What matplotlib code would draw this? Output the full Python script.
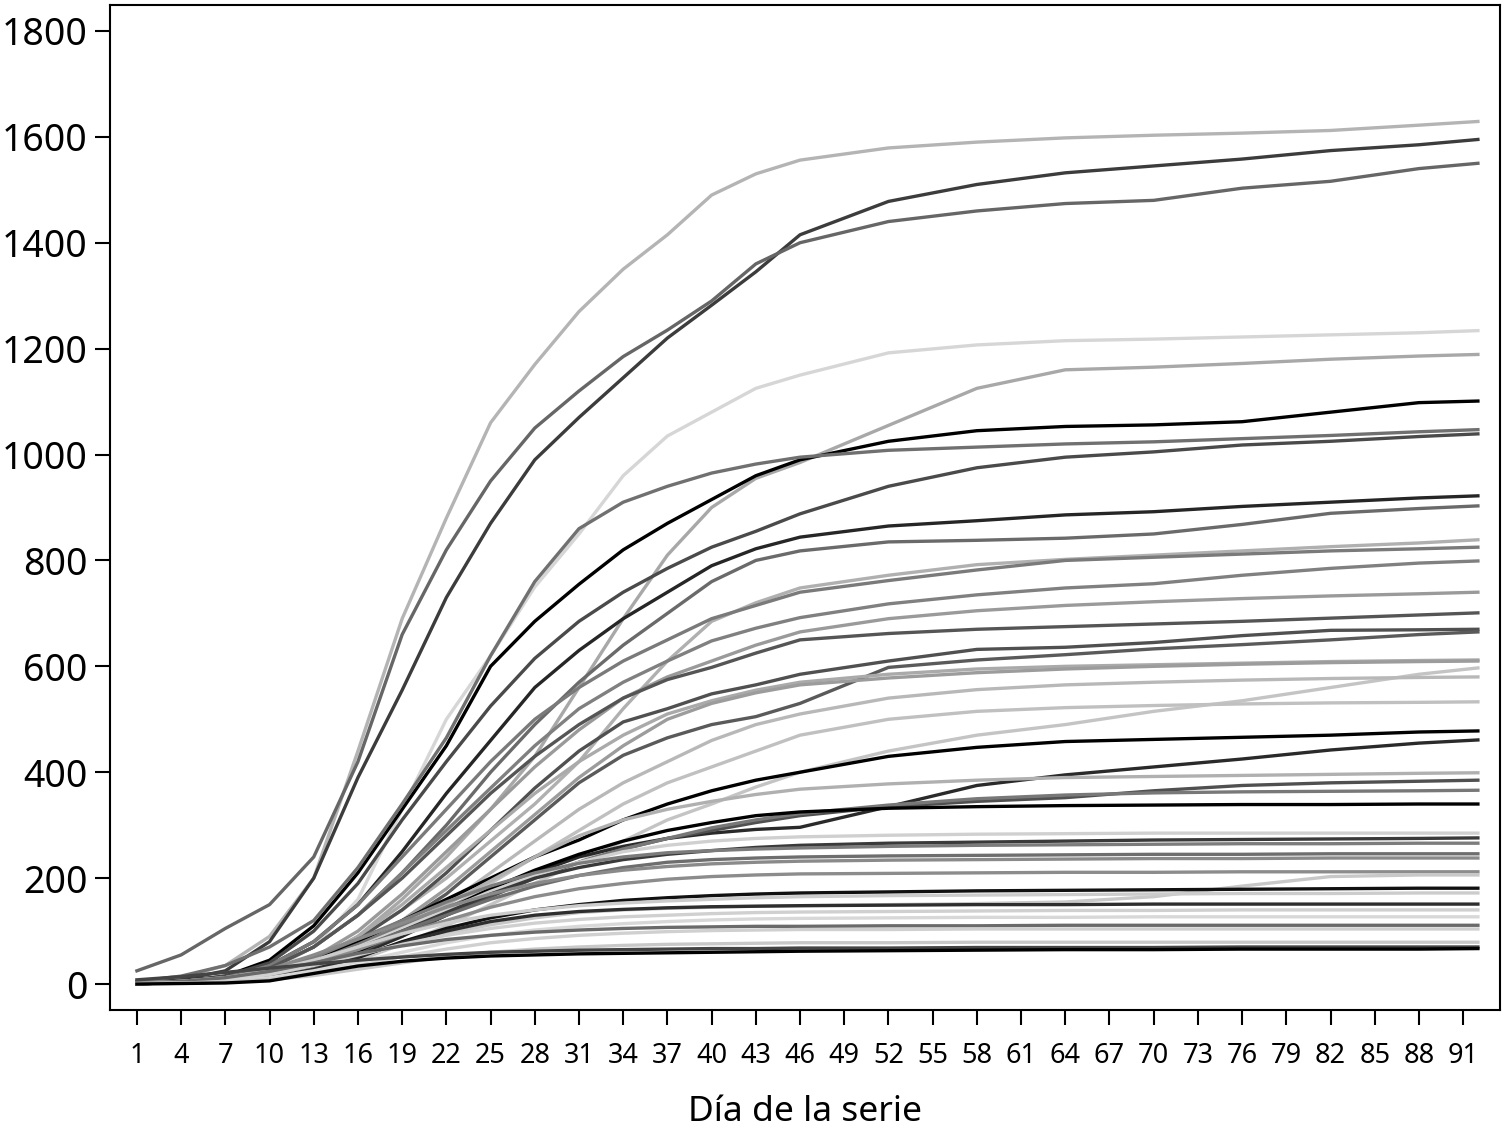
import numpy as np
import matplotlib
matplotlib.use("Agg")
import matplotlib.pyplot as plt

plt.rcParams['font.family'] = ['Noto Sans', 'DejaVu Sans']

days = [1, 4, 7, 10, 13, 16, 19, 22, 25, 28, 31, 34, 37, 40, 43, 46, 52, 58, 64, 70, 76, 82, 88, 92]
xticks = list(range(1, 92, 3))
yticks = [0, 200, 400, 600, 800, 1000, 1200, 1400, 1600, 1800]

# cumulative counts per series (named by final value)
s1629 = [5, 12, 35, 90, 200, 440, 690, 880, 1060, 1170, 1270, 1350, 1415, 1490, 1530, 1556, 1579, 1590, 1598, 1603, 1607, 1612, 1622, 1629]
s1595 = [3, 8, 25, 80, 200, 390, 555, 730, 870, 990, 1070, 1145, 1220, 1282, 1345, 1415, 1478, 1510, 1532, 1545, 1558, 1574, 1585, 1595]
s1550 = [25, 55, 105, 150, 240, 420, 660, 820, 950, 1050, 1120, 1185, 1235, 1290, 1360, 1400, 1440, 1460, 1474, 1480, 1503, 1516, 1540, 1550]
s1234 = [1, 3, 8, 25, 70, 160, 330, 500, 620, 750, 850, 960, 1035, 1080, 1125, 1150, 1192, 1207, 1215, 1218, 1222, 1226, 1230, 1234]
s1189 = [1, 3, 8, 20, 45, 90, 160, 240, 330, 430, 560, 690, 810, 900, 955, 985, 1055, 1125, 1160, 1165, 1172, 1180, 1186, 1189]
s1101 = [2, 5, 15, 45, 110, 210, 330, 450, 600, 685, 755, 820, 870, 915, 960, 990, 1025, 1045, 1053, 1056, 1062, 1080, 1098, 1101]
s1047 = [5, 15, 35, 70, 120, 220, 340, 465, 620, 760, 860, 910, 940, 965, 982, 995, 1008, 1014, 1020, 1024, 1030, 1036, 1043, 1047]
s1039 = [2, 5, 15, 40, 100, 190, 310, 420, 525, 615, 685, 740, 785, 825, 855, 888, 940, 975, 995, 1005, 1018, 1025, 1034, 1039]
s922 = [2, 5, 12, 35, 80, 150, 250, 360, 460, 560, 630, 690, 740, 790, 822, 844, 865, 875, 886, 892, 902, 910, 918, 922]
s903 = [2, 5, 12, 30, 70, 130, 210, 300, 400, 490, 570, 640, 700, 760, 800, 818, 835, 838, 842, 850, 868, 889, 898, 903]
s839 = [1, 3, 8, 20, 45, 85, 140, 200, 270, 340, 420, 520, 610, 685, 720, 748, 772, 792, 802, 810, 818, 826, 833, 839]
s825 = [2, 5, 12, 35, 80, 150, 240, 330, 420, 500, 560, 610, 650, 690, 715, 740, 762, 782, 800, 806, 812, 818, 822, 825]
s799 = [2, 5, 12, 30, 70, 130, 210, 290, 370, 450, 520, 570, 610, 648, 672, 692, 718, 735, 748, 756, 772, 785, 795, 799]
s740 = [1, 3, 8, 20, 50, 100, 170, 250, 330, 410, 480, 540, 580, 610, 640, 665, 690, 705, 715, 722, 728, 733, 737, 740]
s701 = [2, 5, 12, 30, 70, 130, 200, 280, 360, 430, 490, 540, 575, 598, 625, 650, 662, 670, 675, 680, 685, 691, 697, 701]
s670 = [1, 3, 8, 20, 45, 85, 140, 210, 290, 370, 440, 495, 520, 548, 565, 585, 610, 632, 636, 645, 658, 668, 669, 670]
s665 = [1, 2, 6, 15, 35, 70, 115, 170, 240, 310, 380, 432, 465, 490, 505, 530, 598, 612, 622, 633, 641, 650, 660, 665]
s612 = [1, 3, 8, 20, 45, 90, 150, 220, 290, 360, 420, 470, 510, 535, 555, 570, 585, 595, 600, 603, 606, 609, 611, 612]
s610 = [1, 3, 6, 15, 35, 70, 120, 180, 250, 320, 390, 450, 500, 530, 550, 565, 578, 588, 595, 600, 604, 607, 609, 610]
s597 = [1, 2, 4, 10, 22, 45, 75, 110, 150, 190, 230, 270, 310, 340, 372, 400, 440, 470, 490, 515, 535, 560, 585, 597]
s580 = [1, 2, 5, 12, 30, 60, 100, 150, 210, 270, 330, 380, 420, 460, 490, 510, 540, 556, 565, 570, 574, 577, 579, 580]
s533 = [1, 2, 5, 12, 28, 55, 90, 140, 190, 240, 290, 340, 380, 410, 440, 470, 500, 515, 522, 526, 529, 531, 532, 533]
s478 = [1, 3, 8, 20, 45, 80, 120, 160, 200, 240, 272, 310, 340, 365, 385, 400, 430, 447, 458, 462, 466, 470, 476, 478]
s461 = [1, 2, 5, 12, 28, 55, 90, 130, 170, 210, 240, 260, 275, 285, 292, 296, 335, 375, 395, 410, 425, 442, 455, 461]
s399 = [1, 2, 6, 16, 38, 70, 110, 150, 195, 240, 280, 310, 330, 345, 358, 368, 378, 385, 390, 392, 394, 396, 398, 399]
s385 = [1, 2, 5, 14, 32, 60, 95, 130, 165, 200, 230, 255, 275, 290, 305, 318, 335, 345, 352, 365, 375, 380, 383, 385]
s366 = [1, 3, 8, 20, 42, 75, 110, 145, 175, 205, 230, 255, 275, 295, 310, 322, 338, 350, 357, 361, 363, 364, 365, 366]
s340 = [1, 2, 5, 14, 32, 62, 100, 140, 180, 215, 245, 270, 290, 305, 318, 325, 332, 335, 337, 338, 339, 339, 340, 340]
s285 = [1, 3, 8, 18, 40, 70, 105, 140, 175, 205, 230, 250, 262, 270, 275, 278, 281, 283, 284, 285, 285, 285, 285, 285]
s276 = [1, 2, 6, 15, 35, 65, 100, 135, 170, 200, 220, 235, 245, 252, 258, 262, 266, 268, 270, 272, 273, 274, 275, 276]
s266 = [1, 4, 10, 25, 50, 85, 120, 155, 185, 210, 228, 240, 248, 252, 255, 257, 260, 262, 263, 264, 265, 265, 266, 266]
s246 = [1, 2, 6, 16, 38, 68, 100, 130, 160, 185, 205, 220, 230, 235, 238, 240, 242, 243, 244, 245, 245, 246, 246, 246]
s238 = [2, 5, 12, 28, 55, 85, 115, 145, 170, 190, 205, 215, 222, 227, 230, 232, 234, 235, 236, 237, 237, 238, 238, 238]
s212 = [1, 3, 8, 20, 40, 65, 95, 120, 145, 165, 180, 190, 198, 203, 206, 208, 209, 210, 211, 211, 212, 212, 212, 212]
s206 = [1, 2, 5, 12, 28, 50, 75, 95, 112, 125, 135, 140, 143, 145, 147, 148, 150, 152, 155, 165, 185, 203, 206, 206]
s181 = [1, 2, 4, 10, 25, 50, 80, 105, 125, 140, 150, 158, 163, 167, 170, 172, 174, 176, 177, 178, 179, 180, 181, 181]
s172 = [2, 5, 12, 25, 45, 70, 95, 115, 130, 140, 148, 153, 157, 160, 163, 165, 167, 168, 169, 170, 171, 171, 172, 172]
s151 = [1, 2, 4, 12, 28, 52, 78, 100, 118, 130, 137, 141, 144, 146, 147, 148, 149, 150, 150, 151, 151, 151, 151, 151]
s140 = [1, 3, 8, 18, 35, 55, 75, 92, 105, 115, 122, 127, 130, 133, 135, 136, 137, 138, 139, 139, 140, 140, 140, 140]
s127 = [1, 2, 5, 12, 25, 42, 60, 78, 92, 102, 109, 114, 118, 121, 123, 124, 125, 126, 126, 127, 127, 127, 127, 127]
s111 = [2, 5, 12, 24, 40, 58, 72, 84, 92, 98, 102, 105, 107, 108, 109, 109, 110, 110, 111, 111, 111, 111, 111, 111]
s104 = [1, 2, 4, 9, 20, 35, 52, 66, 78, 86, 92, 96, 99, 101, 102, 103, 103, 104, 104, 104, 104, 104, 104, 104]
s79 = [1, 2, 4, 8, 16, 28, 40, 52, 60, 66, 70, 73, 75, 76, 77, 78, 78, 79, 79, 79, 79, 79, 79, 79]
s70 = [8, 14, 22, 30, 38, 45, 51, 56, 60, 62, 64, 65, 66, 67, 67, 68, 68, 69, 69, 69, 70, 70, 70, 70]
s67 = [0, 1, 2, 6, 20, 34, 43, 49, 53, 55, 57, 58, 59, 60, 61, 62, 63, 64, 65, 65, 66, 66, 66, 67]

series = [s1629, s1595, s1550, s1234, s1189, s1101, s1047, s1039, s922, s903,
          s839, s825, s799, s740, s701, s670, s665, s612, s610, s597,
          s580, s533, s478, s461, s399, s385, s366, s340, s285, s276,
          s266, s246, s238, s212, s206, s181, s172, s151, s140, s127,
          s111, s104, s79, s70, s67]
grays = ['#b4b4b4', '#3c3c3c', '#666666', '#d6d6d6', '#a8a8a8', '#000000', '#707070', '#4a4a4a', '#262626', '#6a6a6a',
         '#b0b0b0', '#7a7a7a', '#808080', '#9a9a9a', '#555555', '#505050', '#5a5a5a', '#aaaaaa', '#9c9c9c', '#c4c4c4',
         '#b8b8b8', '#c0c0c0', '#000000', '#2a2a2a', '#b0b0b0', '#505050', '#787878', '#000000', '#d0d0d0', '#3a3a3a',
         '#7c7c7c', '#6e6e6e', '#8a8a8a', '#8c8c8c', '#c8c8c8', '#111111', '#cccccc', '#2e2e2e', '#d0d0d0', '#d8d8d8',
         '#6a6a6a', '#d0d0d0', '#c8c8c8', '#444444', '#000000']

fig = plt.figure(figsize=(15.08, 11.30), dpi=100)
ax = fig.add_axes([0.0729, 0.1062, 0.9218, 0.8894])

for vals, c in zip(series, grays):
    ax.plot(days, vals, color=c, lw=2.4, solid_joinstyle='round')

ax.set_xlim(-0.83, 93.5)
ax.set_ylim(-49, 1849)
ax.set_xticks(xticks)
ax.set_yticks(yticks)
ax.tick_params(axis='y', direction='out', length=11, width=1.5, labelsize=27, pad=5)
ax.tick_params(axis='x', direction='out', length=11, width=1.5, labelsize=19.5, pad=12)
for sp in ax.spines.values():
    sp.set_linewidth(1.5)
ax.set_xlabel('Día de la serie', fontsize=25.5, labelpad=18)

fig.savefig('out.png', dpi=100)
